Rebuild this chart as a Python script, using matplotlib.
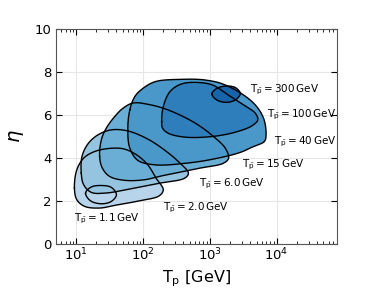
import numpy as np
import matplotlib
matplotlib.use('Agg')
import matplotlib.pyplot as plt

# outline points of each region: T_p [GeV] and eta
labels = ['1.1', '2.0', '6.0', '15', '40', '100', '300']

tp_11 = [13.8, 16.8, 23.8, 33.6, 40.0, 33.6, 23.8, 16.3]
eta_11 = [2.37, 2.65, 2.72, 2.63, 2.29, 1.98, 1.87, 2.01]

tp_20 = [9.4, 10.2, 12.9, 17.8, 28.2, 50.3, 79.8, 118, 156, 201, 175, 89.5, 40.0, 22.4, 13.3, 10.2]
eta_20 = [2.60, 3.45, 3.99, 4.27, 4.43, 4.43, 4.15, 3.68, 3.07, 2.52, 2.24, 2.01, 1.81, 1.67, 1.75, 2.06]

tp_60 = [11.9, 12.2, 15.0, 21.2, 33.6, 59.2, 118, 225, 358, 478, 426, 179, 71.1, 28.2, 16.8, 12.9]
eta_60 = [3.30, 4.07, 4.66, 5.08, 5.31, 5.26, 4.88, 4.30, 3.76, 3.30, 3.07, 2.83, 2.59, 2.37, 2.40, 2.76]

tp_15 = [22.4, 23.8, 28.2, 37.7, 50.3, 71.1, 118, 236, 601, 1135, 1701, 1910, 1607, 716, 225, 107, 53.3, 31.7, 24.6]
eta_15 = [4.07, 4.85, 5.39, 5.93, 6.32, 6.56, 6.50, 6.24, 5.63, 5.00, 4.46, 3.99, 3.76, 3.53, 3.22, 2.99, 2.96, 3.14, 3.53]

tp_40 = [63.4, 75.4, 95.9, 151, 358, 851, 1701, 4335, 6339, 6950, 6561, 4539, 2858, 1135, 451, 151, 83.5, 63.4, 59.2]
eta_40 = [6.24, 6.86, 7.20, 7.55, 7.66, 7.63, 7.40, 6.61, 5.87, 5.08, 4.77, 4.54, 4.26, 3.95, 3.76, 3.68, 3.89, 4.46, 5.31]

tp_100 = [190, 201, 253, 379, 716, 1135, 1888, 3206, 4808, 5212, 4285, 2404, 1084, 426, 239, 196]
eta_100 = [5.70, 6.39, 7.09, 7.45, 7.51, 7.38, 6.93, 6.47, 6.08, 5.77, 5.50, 5.20, 5.00, 4.97, 5.15, 5.39]

tp_300 = [1072, 1274, 1741, 2404, 2858, 2489, 1803, 1274]
eta_300 = [6.98, 7.24, 7.35, 7.28, 7.01, 6.73, 6.59, 6.70]

# label anchor positions
label_tp = [9.4, 201, 700, 3027, 9057, 7194, 4045]
label_eta = [1.18, 1.67, 2.80, 3.68, 4.77, 6.01, 7.17]

regions = [(tp_11, eta_11), (tp_20, eta_20), (tp_60, eta_60), (tp_15, eta_15),
           (tp_40, eta_40), (tp_100, eta_100), (tp_300, eta_300)]

DEC = 3.09  # one decade is about 3.09 eta units on screen


def smooth_closed(x, y, n=30):
    # closed centripetal catmull-rom through the outline points
    p = np.column_stack([np.asarray(x) * DEC, y])
    m = len(p)
    out = []
    for i in range(m):
        P = [p[(i - 1) % m], p[i], p[(i + 1) % m], p[(i + 2) % m]]
        t = [0.0]
        for k in range(3):
            t.append(t[-1] + np.linalg.norm(P[k + 1] - P[k]) ** 0.5)
        u = np.linspace(t[1], t[2], n, endpoint=False)[:, None]
        A1 = (t[1] - u) / (t[1] - t[0]) * P[0] + (u - t[0]) / (t[1] - t[0]) * P[1]
        A2 = (t[2] - u) / (t[2] - t[1]) * P[1] + (u - t[1]) / (t[2] - t[1]) * P[2]
        A3 = (t[3] - u) / (t[3] - t[2]) * P[2] + (u - t[2]) / (t[3] - t[2]) * P[3]
        B1 = (t[2] - u) / (t[2] - t[0]) * A1 + (u - t[0]) / (t[2] - t[0]) * A2
        B2 = (t[3] - u) / (t[3] - t[1]) * A2 + (u - t[1]) / (t[3] - t[1]) * A3
        C = (t[2] - u) / (t[2] - t[1]) * B1 + (u - t[1]) / (t[2] - t[1]) * B2
        out.append(C)
    out = np.vstack(out + [out[0][:1]])
    return out[:, 0] / DEC, out[:, 1]


fig = plt.figure(figsize=(3.74, 2.88), dpi=100)
ax = fig.add_axes([0.150, 0.153, 0.751, 0.746])

cmap = plt.get_cmap('Blues')
shades = [0.2, 0.3, 0.4, 0.5, 0.6, 0.7, 0.8]

curves = []
for (tp, eta), s in zip(regions, shades):
    lx, ly = smooth_closed(np.log10(tp), eta)
    curves.append((10 ** lx, ly))
    ax.fill(10 ** lx, ly, color=cmap(s), zorder=2, lw=0)
for cx, cy in curves:
    ax.plot(cx, cy, color='black', lw=1.0, zorder=3)

for lab, x, y in zip(labels, label_tp, label_eta):
    ax.text(x, y, r'$\mathregular{T_{\bar{p}}=%s\,GeV}$' % lab, fontsize=7.5,
            ha='left', va='center', zorder=4)

ax.set_xscale('log')
ax.set_xlim(5, 8e4)
ax.set_ylim(0, 10)
ax.set_yticks([0, 2, 4, 6, 8, 10])
ax.grid(True, color='#e6e6e6', lw=0.8, zorder=0)
ax.set_axisbelow(True)
ax.tick_params(which='both', direction='in', top=True, right=True, labelsize=9.5)
ax.tick_params(which='major', length=4)
ax.tick_params(which='minor', length=2)
ax.tick_params(axis='x', pad=2)
ax.tick_params(axis='y', pad=3)
for sp in ax.spines.values():
    sp.set_color('#555555')
    sp.set_linewidth(0.8)

ax.set_xlabel(r'$\mathregular{T_p}$ [GeV]', fontsize=11.5, va='center')
ax.xaxis.set_label_coords(0.5, -0.16)
ax.set_ylabel(r'$\eta$', fontsize=14, va='center')
ax.yaxis.set_label_coords(-0.14, 0.5)

fig.savefig('out.png', dpi=100)
